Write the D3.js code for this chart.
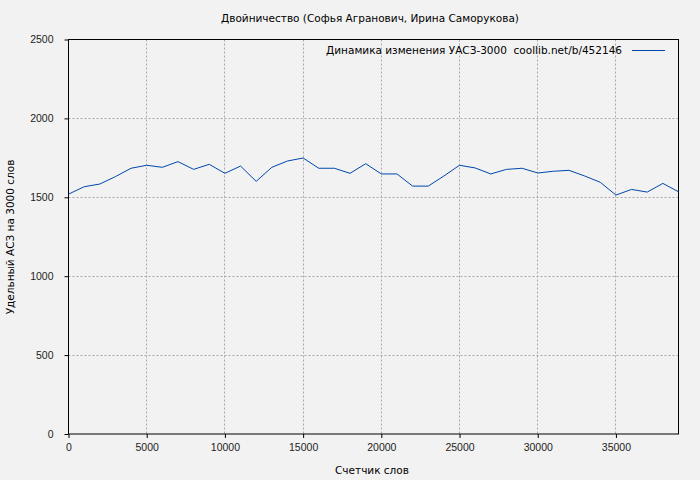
<!DOCTYPE html>
<html>
<head>
<meta charset="utf-8">
<script src="https://cdn.jsdelivr.net/npm/d3@7"></script>
<style>
  body { margin: 0; background: #f2f2f2; }
  svg { display: block; font-family: "DejaVu Sans", sans-serif; }
  .tick text { font-size: 10.5px; fill: #222; }
</style>
</head>
<body>
<div id="chart"></div>
<script>
// data
var words = [0, 1000, 2000, 3000, 4000, 5000, 6000, 7000, 8000, 9000,
  10000, 11000, 12000, 13000, 14000, 15000, 16000, 17000, 18000, 19000,
  20000, 21000, 22000, 23000, 24000, 25000, 26000, 27000, 28000, 29000,
  30000, 31000, 32000, 33000, 34000, 35000, 36000, 37000, 38000, 39000]
var uasz = [1520, 1567, 1584, 1631, 1684, 1703, 1690, 1726, 1677, 1709,
  1652, 1698, 1601, 1690, 1730, 1749, 1684, 1684, 1652, 1713,
  1648, 1648, 1571, 1571, 1635, 1703, 1686, 1648, 1677, 1684,
  1654, 1665, 1671, 1635, 1595, 1514, 1550, 1533, 1588, 1535]
var xTicks = [0, 5000, 10000, 15000, 20000, 25000, 30000, 35000]
var yTicks = [0, 500, 1000, 1500, 2000, 2500]

var title = 'Двойничество (Софья Агранович, Ирина Саморукова)'
var legendText = 'Динамика изменения УАСЗ-3000  coollib.net/b/452146'

var svgWidth = 700
var svgHeight = 480
var margin = { top: 39.5, right: 22, bottom: 46, left: 68.5 }
var width = 678.5 - margin.left
var height = 434 - margin.top

var svg = d3.select('#chart')
  .append('svg')
  .attr('width', svgWidth)
  .attr('height', svgHeight)

svg.append('rect')
  .attr('width', svgWidth)
  .attr('height', svgHeight)
  .attr('fill', '#f2f2f2')

var chartGroup = svg.append('g')
  .attr('transform', `translate(${margin.left}, ${margin.top})`)

var x = d3.scaleLinear().domain([0, 39000]).range([0, width])
var y = d3.scaleLinear().domain([0, 2500]).range([height, 0])

// grid
chartGroup.append('g')
  .selectAll('line')
  .data(xTicks.filter(d => d > 0))
  .enter()
  .append('line')
  .attr('x1', d => Math.round(x(d)))
  .attr('x2', d => Math.round(x(d)))
  .attr('y1', 0)
  .attr('y2', height)
  .attr('stroke', '#a8a8a8')
  .attr('stroke-dasharray', '2,2')

chartGroup.append('g')
  .selectAll('line')
  .data(yTicks.filter(d => d > 0 && d < 2500))
  .enter()
  .append('line')
  .attr('x1', 0)
  .attr('x2', width)
  .attr('y1', d => Math.round(y(d)))
  .attr('y2', d => Math.round(y(d)))
  .attr('stroke', '#a8a8a8')
  .attr('stroke-dasharray', '2,2')

// frame
chartGroup.append('rect')
  .attr('width', width)
  .attr('height', height)
  .attr('fill', 'none')
  .attr('stroke', '#000')

// axes
var bottomAxis = d3.axisBottom(x).tickValues(xTicks).tickSize(4).tickPadding(6).tickFormat(d3.format('d'))
var leftAxis = d3.axisLeft(y).tickValues(yTicks).tickSize(4).tickPadding(11).tickFormat(d3.format('d'))

var gx = chartGroup.append('g')
  .attr('transform', `translate(0, ${height})`)
  .call(bottomAxis)
gx.select('.domain').remove()

var gy = chartGroup.append('g')
  .call(leftAxis)
gy.select('.domain').remove()

svg.selectAll('.tick line').attr('stroke', '#000')

// line
var line = d3.line()
  .x((d, i) => x(words[i]))
  .y(d => y(d))

chartGroup.append('path')
  .datum(uasz)
  .attr('d', line)
  .attr('fill', 'none')
  .attr('stroke', '#0047ab')
  .attr('stroke-width', 1)

// legend
svg.append('text')
  .attr('x', 622)
  .attr('y', 54)
  .attr('text-anchor', 'end')
  .style('font-size', '10.5px')
  .style('white-space', 'pre')
  .attr('xml:space', 'preserve')
  .text(legendText)

svg.append('line')
  .attr('x1', 632)
  .attr('x2', 665)
  .attr('y1', 50.5)
  .attr('y2', 50.5)
  .attr('stroke', '#0047ab')

// title
svg.append('text')
  .attr('x', 370)
  .attr('y', 22)
  .attr('text-anchor', 'middle')
  .style('font-size', '10.5px')
  .text(title)

// axis labels
svg.append('text')
  .attr('x', 372)
  .attr('y', 474)
  .attr('text-anchor', 'middle')
  .style('font-size', '10.5px')
  .text('Счетчик слов')

svg.append('text')
  .attr('transform', 'rotate(-90)')
  .attr('x', -237)
  .attr('y', 14)
  .attr('text-anchor', 'middle')
  .style('font-size', '10.5px')
  .text('Удельный АСЗ на 3000 слов')
</script>
</body>
</html>
